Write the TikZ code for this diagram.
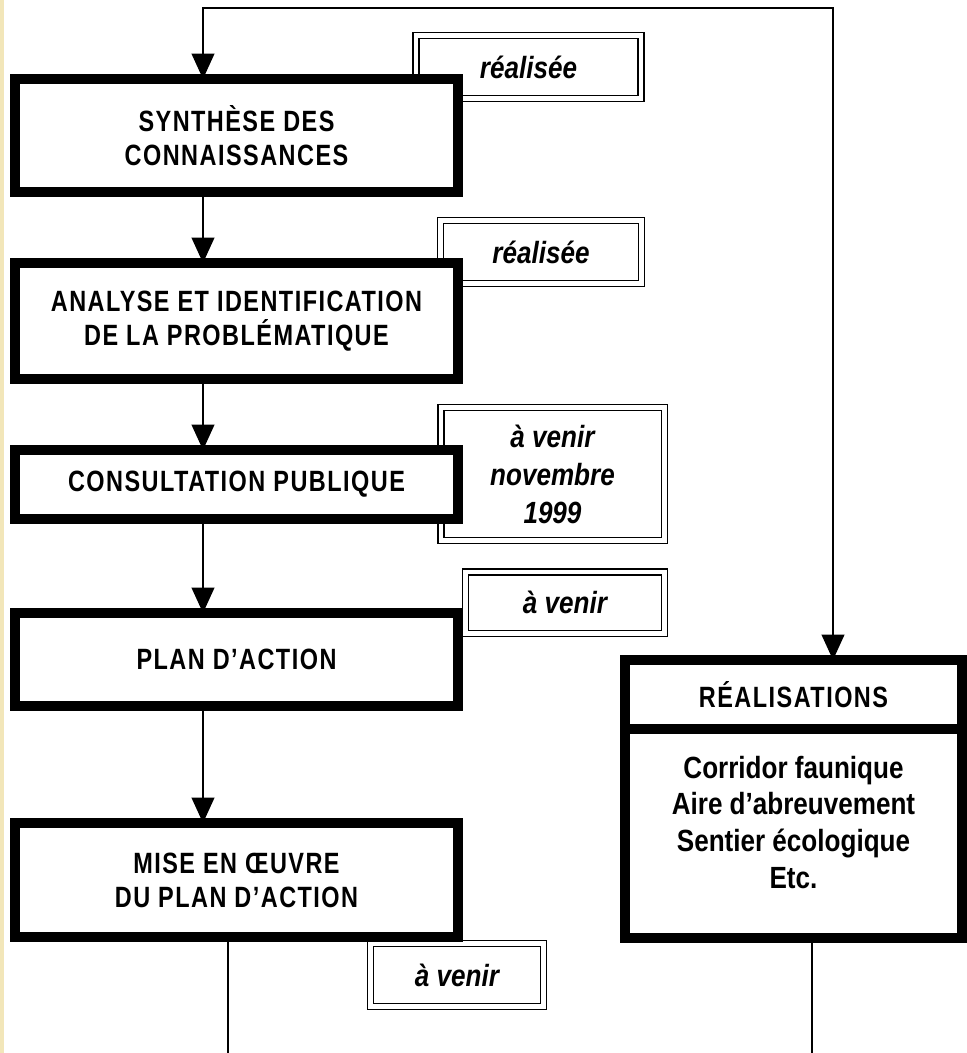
\documentclass[tikz,border=0pt]{standalone}
\usepackage{fontspec}
\newfontfamily\stagefont[FakeStretch=0.8,LetterSpace=5]{Liberation Sans}
\newfontfamily\tagfont[FakeStretch=0.85]{Liberation Sans}
\usetikzlibrary{arrows.meta}
\definecolor{paper}{RGB}{242,230,185}

\begin{document}
\begin{tikzpicture}[x=0.75pt,y=-0.75pt,>={Triangle[width=17pt,length=19pt]},
    stage/.style={draw,line width=7.5pt,fill=white,outer sep=0pt,inner sep=0pt,
      minimum width=332.25pt,align=center,font=\stagefont\bfseries\fontsize{22}{25.5}\selectfont},
    status/.style={draw,line width=1.1pt,double,double distance=3.4pt,outer sep=0pt,
      inner sep=0pt,align=center,font=\tagfont\bfseries\itshape\fontsize{23}{28.5}\selectfont},
    flow/.style={line width=1.4pt}]
  \useasboundingbox (0,0) rectangle (967,1053);
  \fill[white] (0,0) rectangle (967,1053);
  \fill[paper] (0,0) rectangle (4,1053);

  \node[status,minimum width=169pt,minimum height=46.9pt] (done1) at (528.5,67) {réalisée};
  \node[status,minimum width=150.4pt,minimum height=46.9pt] (done2) at (541,252) {réalisée};
  \node[status,minimum width=167.6pt,minimum height=99.4pt] (soon3) at (552.5,474) {à venir\\novembre\\1999};
  \node[status,minimum width=148.9pt,minimum height=46.1pt] (soon4) at (565,602.5) {à venir};
  \node[status,minimum width=129.4pt,minimum height=46.9pt] (soon5) at (457,975) {à venir};

  \node[stage,minimum height=84.75pt] (synth) at (236.5,135.5) {SYNTHÈSE DES\\CONNAISSANCES};
  \node[stage,minimum height=87pt] (analyse) at (236.5,321) {ANALYSE ET IDENTIFICATION\\DE LA PROBLÉMATIQUE};
  \node[stage,minimum height=51.75pt] (consult) at (236.5,484.5) {CONSULTATION PUBLIQUE};
  \node[stage,minimum height=69.75pt] (plan) at (236.5,659.5) {PLAN D’ACTION};
  \node[stage,minimum height=85.5pt] (mise) at (236.5,880) {MISE EN ŒUVRE\\DU PLAN D’ACTION};

  \node[stage,minimum width=252.75pt,minimum height=51.75pt] (realhead) at (793.5,694.5) {RÉALISATIONS};
  \node[stage,minimum width=252.75pt,minimum height=156.75pt,text depth=17pt,
    font=\tagfont\bfseries\fontsize{23}{27.5}\selectfont] (realbody) at (793.5,833.5)
    {Corridor faunique\\Aire d’abreuvement\\Sentier écologique\\Etc.};

  \coordinate (loopl) at (203,8);
  \coordinate (loopr) at (833,8);
  \coordinate (outl) at (228,1053);
  \coordinate (outr) at (812,1053);

  \draw[flow,<->] (synth.north -| loopl) -- (loopl) -- (loopr) -- (realhead.north -| loopr);
  \draw[flow,->] (synth.south -| loopl) -- (analyse.north -| loopl);
  \draw[flow,->] (analyse.south -| loopl) -- (consult.north -| loopl);
  \draw[flow,->] (consult.south -| loopl) -- (plan.north -| loopl);
  \draw[flow,->] (plan.south -| loopl) -- (mise.north -| loopl);
  \draw[flow] (mise.south -| outl) -- (outl);
  \draw[flow] (realbody.south -| outr) -- (outr);
\end{tikzpicture}
\end{document}
